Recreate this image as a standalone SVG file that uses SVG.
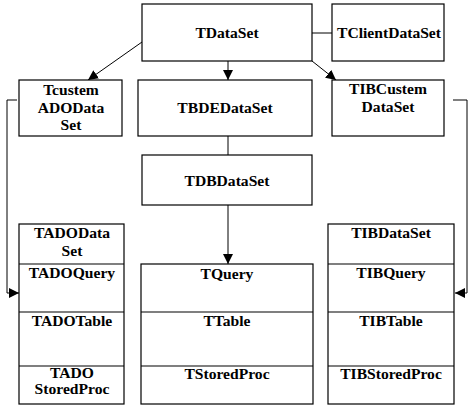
<svg xmlns="http://www.w3.org/2000/svg" width="475" height="412" viewBox="0 0 475 412">
<style>
rect.n,line.d{fill:#fff;stroke:#000;stroke-width:1.2}
line,path.l{stroke:#000;stroke-width:1;fill:none}
text{font-family:"Liberation Serif","DejaVu Serif",serif;font-weight:700;font-size:15.6px;text-anchor:middle;fill:#000}
</style>
<defs>
<marker id="ah" viewBox="0 0 10 10" refX="10" refY="5" markerWidth="10" markerHeight="10" markerUnits="userSpaceOnUse" orient="auto">
<path d="M0,0L10,5L0,10z" fill="#000"/>
</marker>
</defs>
<rect width="475" height="412" fill="#fff"/>
<g id="connectors">
<line x1="312" y1="33" x2="332" y2="33"/>
<line x1="142" y1="42" x2="88" y2="80" marker-end="url(#ah)"/>
<line x1="228" y1="61" x2="228" y2="80" marker-end="url(#ah)"/>
<line x1="312" y1="61" x2="336" y2="80" marker-end="url(#ah)"/>
<line x1="228" y1="136" x2="228" y2="155"/>
<line x1="228" y1="205" x2="228" y2="264" marker-end="url(#ah)"/>
<path class="l" d="M17,100H7V293H19" marker-end="url(#ah)"/>
<path class="l" d="M453,100H467V293H455" marker-end="url(#ah)"/>
</g>
<g id="TDataSet"><rect class="n" x="142" y="4" width="170" height="57"/><text x="227" y="38">TDataSet</text></g>
<g id="TClientDataSet"><rect class="n" x="332" y="4" width="112" height="57"/><text x="389" y="38">TClientDataSet</text></g>
<g id="TcustemADODataSet"><rect class="n" x="19" y="80" width="103" height="56"/><text x="71" y="95">Tcustem</text><text x="71" y="113">ADOData</text><text x="71" y="130">Set</text></g>
<g id="TBDEDataSet"><rect class="n" x="138" y="80" width="174" height="56"/><text x="225" y="113">TBDEDataSet</text></g>
<g id="TIBCustemDataSet"><rect class="n" x="332" y="80" width="112" height="56"/><text x="388" y="94">TIBCustem</text><text x="388" y="112">DataSet</text></g>
<g id="TDBDataSet"><rect class="n" x="142" y="155" width="170" height="50"/><text x="227" y="186">TDBDataSet</text></g>
<g id="ADOGroup">
<rect class="n" x="19" y="224" width="105" height="180"/>
<line class="d" x1="19" y1="264" x2="124" y2="264"/>
<line class="d" x1="19" y1="312" x2="124" y2="312"/>
<line class="d" x1="19" y1="366" x2="124" y2="366"/>
<text x="72" y="238">TADOData</text><text x="72" y="256">Set</text>
<text x="72" y="278">TADOQuery</text>
<text x="72" y="326">TADOTable</text>
<text x="72" y="378">TADO</text><text x="72" y="394">StoredProc</text>
</g>
<g id="BDEGroup">
<rect class="n" x="141" y="264" width="172" height="140"/>
<line class="d" x1="141" y1="312" x2="313" y2="312"/>
<line class="d" x1="141" y1="366" x2="313" y2="366"/>
<text x="227" y="279">TQuery</text>
<text x="227" y="326">TTable</text>
<text x="227" y="379">TStoredProc</text>
</g>
<g id="IBGroup">
<rect class="n" x="328" y="224" width="126" height="180"/>
<line class="d" x1="328" y1="264" x2="454" y2="264"/>
<line class="d" x1="328" y1="312" x2="454" y2="312"/>
<line class="d" x1="328" y1="366" x2="454" y2="366"/>
<text x="391" y="238">TIBDataSet</text>
<text x="391" y="278">TIBQuery</text>
<text x="391" y="326">TIBTable</text>
<text x="391" y="379">TIBStoredProc</text>
</g>
</svg>
